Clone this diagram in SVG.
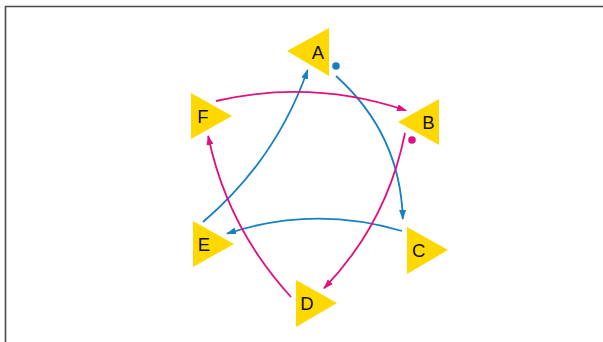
<svg xmlns="http://www.w3.org/2000/svg" width="603" height="342" viewBox="0 0 603 342">
<style>
.tri{fill:#FFD800;stroke:none}
.lbl{font-family:"Liberation Sans",Arial,sans-serif;font-size:18.5px;fill:#111;text-anchor:middle}
.blue{fill:none;stroke:#1580C3;stroke-width:1.8}
.pink{fill:none;stroke:#E2107C;stroke-width:1.8}
</style>
<defs>
<marker id="ab" markerUnits="userSpaceOnUse" markerWidth="12" markerHeight="8" refX="9" refY="3.5" orient="auto"><path d="M0,0 L10,3.5 L0,7 z" fill="#1580C3"/></marker>
<marker id="ap" markerUnits="userSpaceOnUse" markerWidth="12" markerHeight="8" refX="9" refY="3.5" orient="auto"><path d="M0,0 L10,3.5 L0,7 z" fill="#E2107C"/></marker>
</defs>
<rect width="603" height="342" fill="#fff"/>
<polyline points="5.5,342 5.5,6.5 603,6.5" fill="none" stroke="#4a4a4a" stroke-width="1.6"/>
<g id="connectors">
<path class="blue" d="M336,76 Q400.5,134 402.8,219" marker-end="url(#ab)"/>
<path class="blue" d="M402,231 Q314,205 227,233.6" marker-end="url(#ab)"/>
<path class="blue" d="M203,222 Q276,160 307.6,70" marker-end="url(#ab)"/>
<path class="pink" d="M216,101 Q312.5,79 406,110.5" marker-end="url(#ap)"/>
<path class="pink" d="M405,133 Q387,223 324,288.3" marker-end="url(#ap)"/>
<path class="pink" d="M291,297 Q227,227 208.2,136" marker-end="url(#ap)"/>
</g>
<g id="A"><polygon class="tri" points="287,51 329,28 329,76"/><text class="lbl" x="318" y="58.7">A</text><circle cx="336" cy="66" r="3.8" fill="#1580C3"/></g>
<g id="B"><polygon class="tri" points="398,122 439,99 439,145"/><text class="lbl" x="428.3" y="129.4">B</text><circle cx="412" cy="140" r="3.8" fill="#E2107C"/></g>
<g id="C"><polygon class="tri" points="407,227 407,274 448,250"/><text class="lbl" x="418.7" y="257.2">C</text></g>
<g id="D"><polygon class="tri" points="296,280 296,327 337,303"/><text class="lbl" x="307" y="310.4">D</text></g>
<g id="E"><polygon class="tri" points="193,221 193,267 234,244"/><text class="lbl" x="204" y="250.7">E</text></g>
<g id="F"><polygon class="tri" points="191,93 191,139 232,116"/><text class="lbl" x="203" y="123.4">F</text></g>
</svg>
